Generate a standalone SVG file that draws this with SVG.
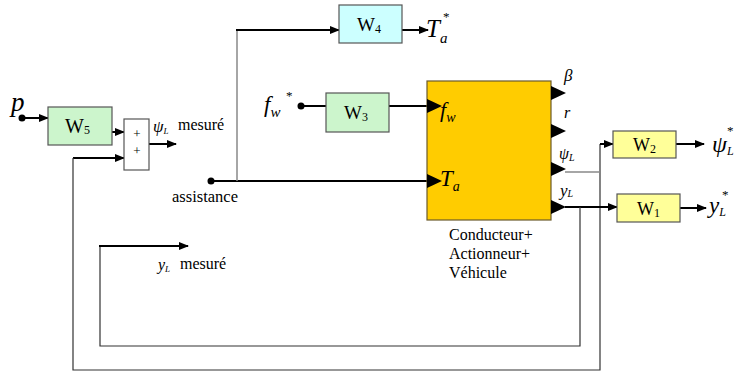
<svg xmlns="http://www.w3.org/2000/svg" width="735" height="372" viewBox="0 0 735 372" font-family="'Liberation Serif','Times New Roman',serif">
<defs>
<marker id="ah" markerWidth="10" markerHeight="8" refX="9" refY="4" orient="auto" markerUnits="userSpaceOnUse">
<path d="M0,0 L10,4 L0,8 Z" fill="#000"/>
</marker>
<style>
.blk{stroke:#555;stroke-width:1.2}
.w{fill:none;stroke:#000;stroke-width:2}
.t{fill:none;stroke:#333;stroke-width:1.2}
.g{fill:none;stroke:#888;stroke-width:1.5}
text{font-family:"Liberation Serif","Times New Roman",serif;fill:#000}
.i{font-style:italic}
.tri{fill:#000}
</style>
</defs>
<rect width="735" height="372" fill="#fff"/>

<g id="connectors">
<line x1="22" y1="118" x2="48" y2="118" class="w" marker-end="url(#ah)"/>
<circle cx="22" cy="118" r="3.5" fill="#000"/>
<line x1="112" y1="132" x2="124" y2="132" class="w" marker-end="url(#ah)"/>
<line x1="73" y1="158" x2="124" y2="158" class="w" marker-end="url(#ah)"/>
<polyline points="73,158 73,370 600,370 600,144" class="t"/>
<line x1="600" y1="144" x2="613" y2="144" class="w" marker-end="url(#ah)"/>
<line x1="149" y1="144" x2="176" y2="144" class="w" marker-end="url(#ah)"/>
<circle cx="211" cy="181" r="3.5" fill="#000"/>
<line x1="211" y1="181" x2="430" y2="181" class="w"/>
<line x1="237" y1="181" x2="237" y2="30" class="g"/>
<line x1="236" y1="30" x2="339" y2="30" class="w" marker-end="url(#ah)"/>
<line x1="402" y1="30" x2="428" y2="30" class="w" marker-end="url(#ah)"/>
<circle cx="301" cy="106" r="3.5" fill="#000"/>
<line x1="301" y1="106" x2="326" y2="106" class="w"/>
<line x1="389" y1="106" x2="430" y2="106" class="w"/>
<line x1="565" y1="172" x2="600" y2="172" class="g"/>
<line x1="676" y1="144" x2="704" y2="144" class="w" marker-end="url(#ah)"/>
<line x1="565" y1="207" x2="617" y2="207" class="w" marker-end="url(#ah)"/>
<line x1="680" y1="208" x2="706" y2="208" class="w" marker-end="url(#ah)"/>
<polyline points="580,207 580,346 100,346 100,246" class="t"/>
<line x1="99" y1="246" x2="188" y2="246" class="w" marker-end="url(#ah)"/>
</g>

<g id="p"><text x="11" y="111" font-size="27" class="i">p</text></g>

<g id="W5">
<rect x="48" y="107" width="64" height="38" fill="#ccf5cc" class="blk"/>
<text x="65" y="133" font-size="20">W<tspan font-size="12" dy="1">5</tspan></text>
</g>

<g id="sum">
<rect x="124" y="119" width="25" height="51" fill="#fff" class="blk"/>
<text x="137" y="138" font-size="13" text-anchor="middle">+</text>
<text x="137" y="155" font-size="13" text-anchor="middle">+</text>
</g>

<g id="psiL-mesure">
<text x="153" y="132" font-size="17" class="i">ψ<tspan font-size="9" dy="2">L</tspan></text>
<text x="178" y="130" font-size="16">mesuré</text>
</g>

<g id="assistance"><text x="172" y="202" font-size="16.5">assistance</text></g>

<g id="W4">
<rect x="339" y="5" width="63" height="38" fill="#ccffff" class="blk"/>
<text x="357" y="31" font-size="19">W<tspan font-size="12" dy="2">4</tspan></text>
</g>
<g id="Ta-star">
<text x="426" y="37" font-size="25" class="i">T<tspan font-size="15" dy="6">a</tspan></text>
<text x="443" y="21" font-size="13">*</text>
</g>

<g id="fw-star">
<text x="264" y="112" font-size="23" class="i">f<tspan font-size="15" dy="5">w</tspan></text>
<text x="286" y="100" font-size="13">*</text>
</g>

<g id="W3">
<rect x="326" y="93" width="63" height="39" fill="#ccf5cc" class="blk"/>
<text x="344" y="119" font-size="19">W<tspan font-size="12" dy="2">3</tspan></text>
</g>

<g id="vehicule">
<rect x="427" y="81" width="124" height="139" fill="#ffcc00" stroke="#6b5a2a" stroke-width="1.2"/>
<polygon points="427,99 442,106 427,113" class="tri"/>
<polygon points="427,174 442,181 427,188" class="tri"/>
<polygon points="551,86 566,93 551,100" class="tri"/>
<polygon points="551,124 566,131 551,138" class="tri"/>
<polygon points="551,162 566,169 551,176" class="tri"/>
<polygon points="551,200 566,207 551,214" class="tri"/>
<text x="440" y="117" font-size="22" class="i">f<tspan font-size="14" dy="5">w</tspan></text>
<text x="440" y="186" font-size="23" class="i">T<tspan font-size="14" dy="5">a</tspan></text>
<text x="564" y="81" font-size="17" class="i">β</text>
<text x="564" y="118" font-size="16" class="i">r</text>
<text x="559" y="159" font-size="16" class="i">ψ<tspan font-size="10" dy="2">L</tspan></text>
<text x="560" y="196" font-size="17" class="i">y<tspan font-size="10" dy="1">L</tspan></text>
<text x="449" y="240" font-size="16">Conducteur+</text>
<text x="449" y="259" font-size="16">Actionneur+</text>
<text x="449" y="278" font-size="16">Véhicule</text>
</g>

<g id="W2">
<rect x="613" y="131" width="63" height="27" fill="#ffff99" class="blk"/>
<text x="633" y="151" font-size="18">W<tspan font-size="12" dy="2">2</tspan></text>
</g>
<g id="psiL-star">
<text x="712" y="152" font-size="24" class="i">ψ<tspan font-size="12" dy="3">L</tspan></text>
<text x="727" y="135" font-size="13">*</text>
</g>

<g id="W1">
<rect x="617" y="194" width="63" height="28" fill="#ffff99" class="blk"/>
<text x="637" y="215" font-size="18">W<tspan font-size="12" dy="2">1</tspan></text>
</g>
<g id="yL-star">
<text x="709" y="213" font-size="23" class="i">y<tspan font-size="12" dy="3">L</tspan></text>
<text x="722" y="199" font-size="13">*</text>
</g>

<g id="yL-mesure">
<text x="158" y="270" font-size="16" class="i">y<tspan font-size="9" dy="2">L</tspan></text>
<text x="180" y="269" font-size="16">mesuré</text>
</g>
</svg>
